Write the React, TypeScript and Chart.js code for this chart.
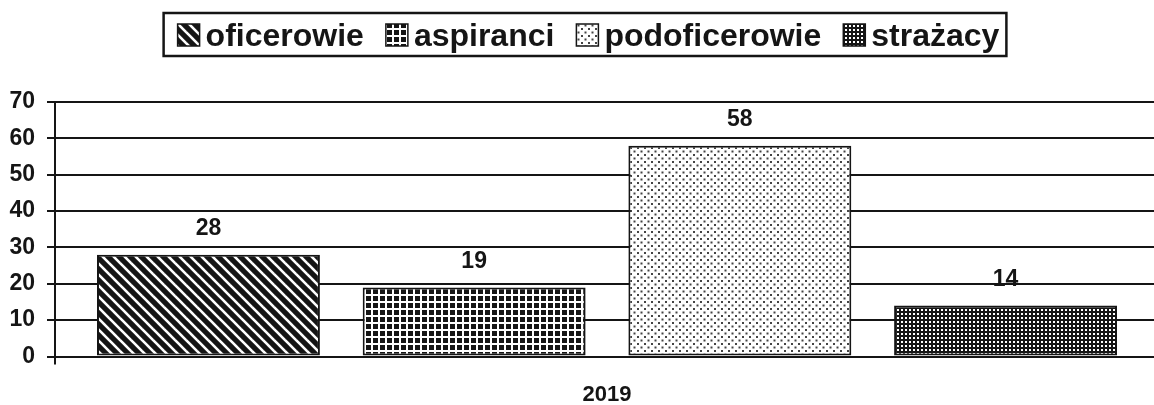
import React, { useEffect, useRef } from 'react';
import { Chart, registerables } from 'chart.js';

Chart.register(...registerables);

const categories = ['2019'];
const seriesNames = ['oficerowie', 'aspiranci', 'podoficerowie', 'strażacy'];
const seriesValues = [28, 19, 58, 14];
const yTickValues = [0, 10, 20, 30, 40, 50, 60, 70];

const FONT = '"Liberation Sans", Arial, Helvetica, sans-serif';
const INK = '#151515';

function tile(ctx: CanvasRenderingContext2D, w: number, h: number, draw: (c: CanvasRenderingContext2D) => void) {
  const c = document.createElement('canvas');
  c.width = w;
  c.height = h;
  const t = c.getContext('2d') as CanvasRenderingContext2D;
  draw(t);
  return ctx.createPattern(c, 'repeat') as CanvasPattern;
}

function makePatterns(ctx: CanvasRenderingContext2D) {
  const stripes = tile(ctx, 11, 11, (t) => {
    t.fillStyle = INK;
    t.fillRect(0, 0, 11, 11);
    t.strokeStyle = '#fff';
    t.lineWidth = 2.6;
    for (const k of [-1, 0, 1]) {
      t.beginPath();
      t.moveTo(-1, k * 11 - 1);
      t.lineTo(12, (k + 1) * 11 + 1);
      t.stroke();
    }
  });
  const grid = tile(ctx, 7, 7, (t) => {
    t.fillStyle = INK;
    t.fillRect(0, 0, 7, 7);
    t.fillStyle = '#fff';
    t.fillRect(0, 0, 7, 2);
    t.fillRect(0, 0, 2, 7);
  });
  const dots = tile(ctx, 7, 7, (t) => {
    t.fillStyle = '#fff';
    t.fillRect(0, 0, 7, 7);
    t.fillStyle = '#444';
    t.fillRect(0, 0, 2, 2);
    t.fillRect(3.5, 3.5, 2, 2);
  });
  const dense = tile(ctx, 4, 4, (t) => {
    t.fillStyle = INK;
    t.fillRect(0, 0, 4, 4);
    t.fillStyle = '#fff';
    t.fillRect(1, 1, 2, 2);
  });
  return [stripes, grid, dots, dense];
}

const valueLabels = {
  id: 'valueLabels',
  afterDatasetsDraw(chart: any) {
    const ctx = chart.ctx as CanvasRenderingContext2D;
    ctx.save();
    ctx.font = `bold 23px ${FONT}`;
    ctx.fillStyle = INK;
    ctx.textAlign = 'center';
    ctx.textBaseline = 'middle';
    chart.data.datasets.forEach((ds: any, i: number) => {
      const meta = chart.getDatasetMeta(i);
      meta.data.forEach((el: any, j: number) => {
        ctx.fillText(String(ds.data[j]), el.x, el.y - 26);
      });
    });
    ctx.restore();
  },
};

const boxLegend = {
  id: 'boxLegend',
  afterDraw(chart: any) {
    const ctx = chart.ctx as CanvasRenderingContext2D;
    const ds = chart.data.datasets;
    ctx.save();
    ctx.font = `bold 32px ${FONT}`;
    const box = 22, gapText = 6, gapItem = 22, padL = 14, padR = 7;
    const widths = ds.map((d: any) => ctx.measureText(d.label).width);
    let total = padL + padR + gapItem * (ds.length - 1);
    widths.forEach((w: number) => { total += box + gapText + w; });
    const cx = 585;
    const left = cx - total / 2;
    const top = 13;
    const h = 43;
    ctx.strokeStyle = INK;
    ctx.lineWidth = 2.5;
    ctx.strokeRect(left, top, total, h);
    let x = left + padL;
    ctx.textBaseline = 'alphabetic';
    ctx.textAlign = 'left';
    ds.forEach((d: any, i: number) => {
      ctx.fillStyle = d.backgroundColor;
      ctx.fillRect(x, 24, box, box);
      ctx.lineWidth = 1.5;
      ctx.strokeRect(x, 24, box, box);
      ctx.fillStyle = INK;
      ctx.fillText(d.label, x + box + gapText, 46);
      x += box + gapText + widths[i] + gapItem;
    });
    ctx.restore();
  },
};

export default function App() {
  const ref = useRef<HTMLCanvasElement | null>(null);

  useEffect(() => {
    const canvas = ref.current as HTMLCanvasElement;
    const ctx = canvas.getContext('2d') as CanvasRenderingContext2D;
    const patterns = makePatterns(ctx);

    const chart = new Chart(canvas, {
      type: 'bar',
      data: {
        labels: categories,
        datasets: seriesNames.map((name, i) => ({
          label: name,
          data: [seriesValues[i]],
          backgroundColor: patterns[i] as any,
          borderColor: INK,
          borderWidth: 2,
          borderSkipped: false,
          categoryPercentage: 0.9627,
          barPercentage: 0.839,
        })),
      },
      options: {
        responsive: false,
        animation: false,
        events: [],
        layout: { padding: { top: 102, left: 0, right: 0, bottom: 0 } },
        plugins: {
          legend: { display: false },
          tooltip: { enabled: false },
          title: { display: false },
        },
        scales: {
          x: {
            type: 'category',
            afterFit: (s: any) => { s.height = 48.5; },
            grid: {
              display: true,
              drawOnChartArea: false,
              drawTicks: true,
              tickLength: 8,
              color: INK,
              lineWidth: 2,
            },
            border: { display: false },
            ticks: {
              color: INK,
              padding: 17,
              font: { family: FONT, size: 22, weight: 'bold' },
            },
          },
          y: {
            min: 0,
            max: 70,
            afterFit: (s: any) => { s.width = 55; },
            afterBuildTicks: (s: any) => { s.ticks = yTickValues.map((v) => ({ value: v })); },
            grid: {
              color: INK,
              lineWidth: 2,
              tickLength: 8,
              drawTicks: true,
            },
            border: { display: true, color: INK, width: 2 },
            ticks: {
              color: INK,
              padding: 12,
              font: { family: FONT, size: 23, weight: 'bold' },
            },
          },
        },
      },
      plugins: [valueLabels, boxLegend],
    } as any);

    return () => chart.destroy();
  }, []);

  return (
    <div style={{ position: 'absolute', left: 0, top: 0, width: 1154, height: 405, overflow: 'hidden', background: '#fff' }}>
      <canvas ref={ref} width={1159} height={405} style={{ display: 'block', width: 1159, height: 405 }} />
    </div>
  );
}
